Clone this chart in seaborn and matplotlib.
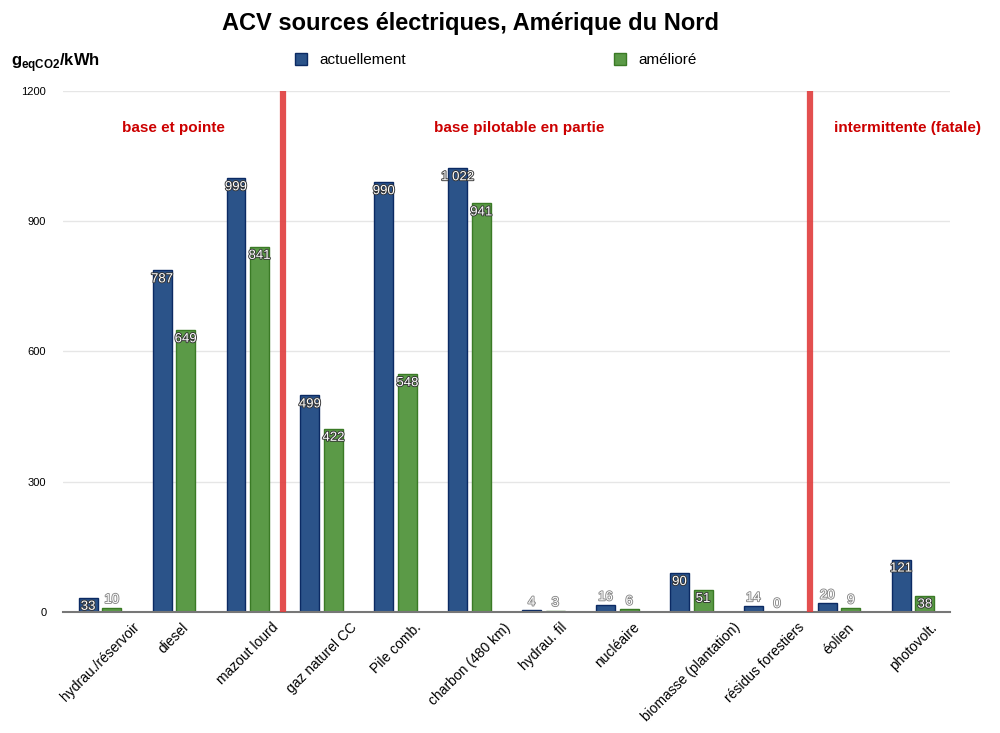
import matplotlib
matplotlib.use("Agg")
import matplotlib.pyplot as plt
import matplotlib.patheffects as pe
import seaborn as sns
import pandas as pd
from matplotlib.patches import Patch

categories = ["hydrau./réservoir", "diesel", "mazout lourd", "gaz naturel CC", "Pile comb.",
              "charbon (480 km)", "hydrau. fil", "nucléaire", "biomasse (plantation)",
              "résidus forestiers", "éolien", "photovolt."]
actuel = [33, 787, 999, 499, 990, 1022, 4, 16, 90, 14, 20, 121]
ameliore = [10, 649, 841, 422, 548, 941, 3, 6, 51, 0, 9, 38]
series = ["actuellement", "amélioré"]
yticks = [0, 300, 600, 900, 1200]
sections = ["base et pointe", "base pilotable en partie", "intermittente (fatale)"]

df = pd.DataFrame({
    "cat": categories * 2,
    "val": actuel + ameliore,
    "serie": [series[0]] * len(categories) + [series[1]] * len(categories),
})

sns.set_style("white")
plt.rcParams["font.family"] = ["Liberation Sans", "DejaVu Sans"]
plt.rcParams["text.color"] = "black"
plt.rcParams["xtick.color"] = "black"
plt.rcParams["ytick.color"] = "black"

blue = "#2b5389"
green = "#5b9a47"
edge_blue = "#0b2a63"
edge_green = "#3a7a25"

fig = plt.figure(figsize=(10, 7.33), dpi=100)
ax = fig.add_axes([0.063, 0.165, 0.887, 0.711])

sns.barplot(data=df, x="cat", y="val", hue="serie", palette=[blue, green],
            width=0.64, gap=0.2, ax=ax, legend=False, errorbar=None, saturation=1)

for i, cont in enumerate(ax.containers):
    ec = edge_blue if i == 0 else edge_green
    for bar in cont:
        bar.set_edgecolor(ec)
        bar.set_linewidth(1.0)
    vals = actuel if i == 0 else ameliore
    for bar, v in zip(cont, vals):
        txt = f"{v:,}".replace(",", " ")
        x = bar.get_x() + bar.get_width() / 2
        if v >= 30:
            ax.text(x, v - 7, txt, ha="center", va="top", fontsize=9.5, color="white",
                    path_effects=[pe.withStroke(linewidth=1.3, foreground="#333333")])
        else:
            ax.text(x, v + 4, txt, ha="center", va="bottom", fontsize=9.5, color="white",
                    path_effects=[pe.withStroke(linewidth=1.3, foreground="#888888")])

ax.set_xlim(-0.5, len(categories) - 0.5)
ax.set_ylim(0, 1200)
ax.set_yticks(yticks)
ax.set_yticklabels([str(t) for t in yticks], fontsize=8)
ax.yaxis.grid(True, color="#e6e6e6", linewidth=1)
ax.set_axisbelow(True)
ax.tick_params(axis="y", length=0, pad=12)
ax.tick_params(axis="x", length=0, pad=6)
ax.set_xticks(range(len(categories)))
ax.set_xticklabels(categories, rotation=45, ha="center", va="top", fontsize=10)
ax.set_xlabel("")
ax.set_ylabel("")
for s in ["top", "right", "left"]:
    ax.spines[s].set_visible(False)
ax.spines["bottom"].set_color("#777777")
ax.spines["bottom"].set_linewidth(1.5)

for xv in [2.47, 9.6]:
    ax.axvline(xv, ymin=0, ymax=1.0, color="#e03c3c", linewidth=4.5, alpha=0.9, zorder=5)

sec_x = [1.0, 5.67, 10.93]
for sx, label in zip(sec_x, sections):
    ax.text(sx, 1115, label, ha="center", va="center", color="#cc0000",
            fontsize=11, fontweight="bold")

fig.text(0.47, 0.968, "ACV sources électriques, Amérique du Nord", ha="center", va="center",
         fontsize=17, fontweight="bold")
fig.text(0.011, 0.915, r"g$_{\mathregular{eqCO2}}$/kWh", ha="left", va="center",
         fontsize=12, fontweight="bold")

handles = [Patch(facecolor=blue, edgecolor=edge_blue, label=series[0]),
           Patch(facecolor=green, edgecolor=edge_green, label=series[1])]
fig.legend(handles=handles, loc="center left", bbox_to_anchor=(0.281, 0.918), ncol=2,
           frameon=False, fontsize=11, handlelength=0.8, handleheight=0.8,
           columnspacing=13.6, handletextpad=0.8)

fig.savefig("out.png", dpi=100)
